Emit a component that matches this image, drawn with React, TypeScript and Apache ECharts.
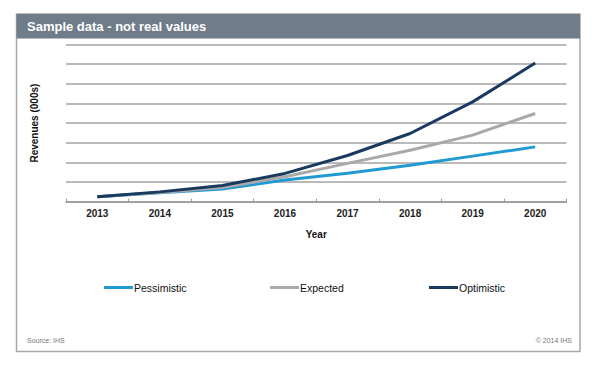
import React, { useEffect, useRef } from "react";
import * as echarts from "echarts";

const years = ["2013", "2014", "2015", "2016", "2017", "2018", "2019", "2020"];
const pessimistic = [0.25, 0.45, 0.64, 1.1, 1.45, 1.86, 2.32, 2.79];
const expected = [0.25, 0.47, 0.72, 1.27, 1.95, 2.62, 3.39, 4.49];
const optimistic = [0.25, 0.5, 0.82, 1.44, 2.35, 3.47, 5.08, 7.06];
const seriesNames = ["Pessimistic", "Expected", "Optimistic"];
const seriesColors = ["#1f9ad2", "#a9a9a9", "#183a5e"];

const FONT = "Liberation Sans, Arial, sans-serif";

export default function App() {
  const ref = useRef<HTMLDivElement>(null);
  useEffect(() => {
    const chart = echarts.init(ref.current!, null, { renderer: "svg" });
    const values = [pessimistic, expected, optimistic];
    const legendLefts = [104, 270, 429];
    chart.setOption({
      animation: false,
      textStyle: { fontFamily: FONT },
      graphic: [
        {
          type: "rect",
          shape: { x: 16.5, y: 14, width: 563.5, height: 337.5 },
          style: { fill: "#fff", stroke: "#a8a8a8", lineWidth: 1.5 },
          z: -10,
        },
        {
          type: "rect",
          shape: { x: 16.5, y: 14, width: 563.5, height: 24.5 },
          style: { fill: "#6f7c89" },
          z: -9,
        },
        {
          type: "text",
          x: 27,
          y: 26.5,
          style: {
            text: "Sample data - not real values",
            fill: "#ffffff",
            font: "bold 13px " + FONT,
            textVerticalAlign: "middle",
          },
        },
        {
          type: "text",
          x: 27,
          y: 340,
          style: {
            text: "Source: IHS",
            fill: "#777",
            font: "7px " + FONT,
            textVerticalAlign: "middle",
          },
        },
        {
          type: "text",
          x: 572,
          y: 340,
          style: {
            text: "\u00a9 2014 IHS",
            fill: "#777",
            font: "7px " + FONT,
            textAlign: "right",
            textVerticalAlign: "middle",
          },
        },
      ],
      legend: seriesNames.map((n, i) => ({
        data: [n],
        left: legendLefts[i],
        top: 282,
        padding: 0,
        icon: "rect",
        itemWidth: 29,
        itemHeight: 3,
        itemGap: 0,
        textStyle: { fontSize: 10.5, color: "#111", fontFamily: FONT, padding: [0, 0, 0, -4] },
      })),
      grid: { left: 66, right: 33.5, top: 44.5, bottom: 168.3 },
      xAxis: {
        type: "category",
        data: years,
        boundaryGap: true,
        name: "Year",
        nameLocation: "middle",
        nameGap: 28,
        nameTextStyle: { fontWeight: "bold", fontSize: 10, color: "#111" },
        axisLine: { lineStyle: { color: "#999", width: 1.5 } },
        axisTick: { show: true, inside: true, length: 3, lineStyle: { color: "#999" } },
        axisLabel: { fontWeight: "bold", fontSize: 10, color: "#222", margin: 7 },
      },
      yAxis: {
        type: "value",
        min: 0,
        max: 8,
        interval: 1,
        name: "Revenues (000s)",
        nameLocation: "middle",
        nameGap: 27,
        nameTextStyle: { fontWeight: "bold", fontSize: 10, color: "#111" },
        axisLabel: { show: false },
        axisLine: { show: false },
        axisTick: { show: false },
        splitLine: { lineStyle: { color: "#a3a3a3", width: 1.5 } },
      },
      series: seriesNames.map((n, i) => ({
        name: n,
        type: "line",
        data: values[i],
        symbol: "none",
        smooth: false,
        lineStyle: { color: seriesColors[i], width: 3 },
        itemStyle: { color: seriesColors[i] },
        z: 2 + i,
      })),
    });
    return () => chart.dispose();
  }, []);
  return (
    <div
      ref={ref}
      style={{ position: "fixed", left: 0, top: 0, width: 600, height: 370, background: "#fff" }}
    />
  );
}
